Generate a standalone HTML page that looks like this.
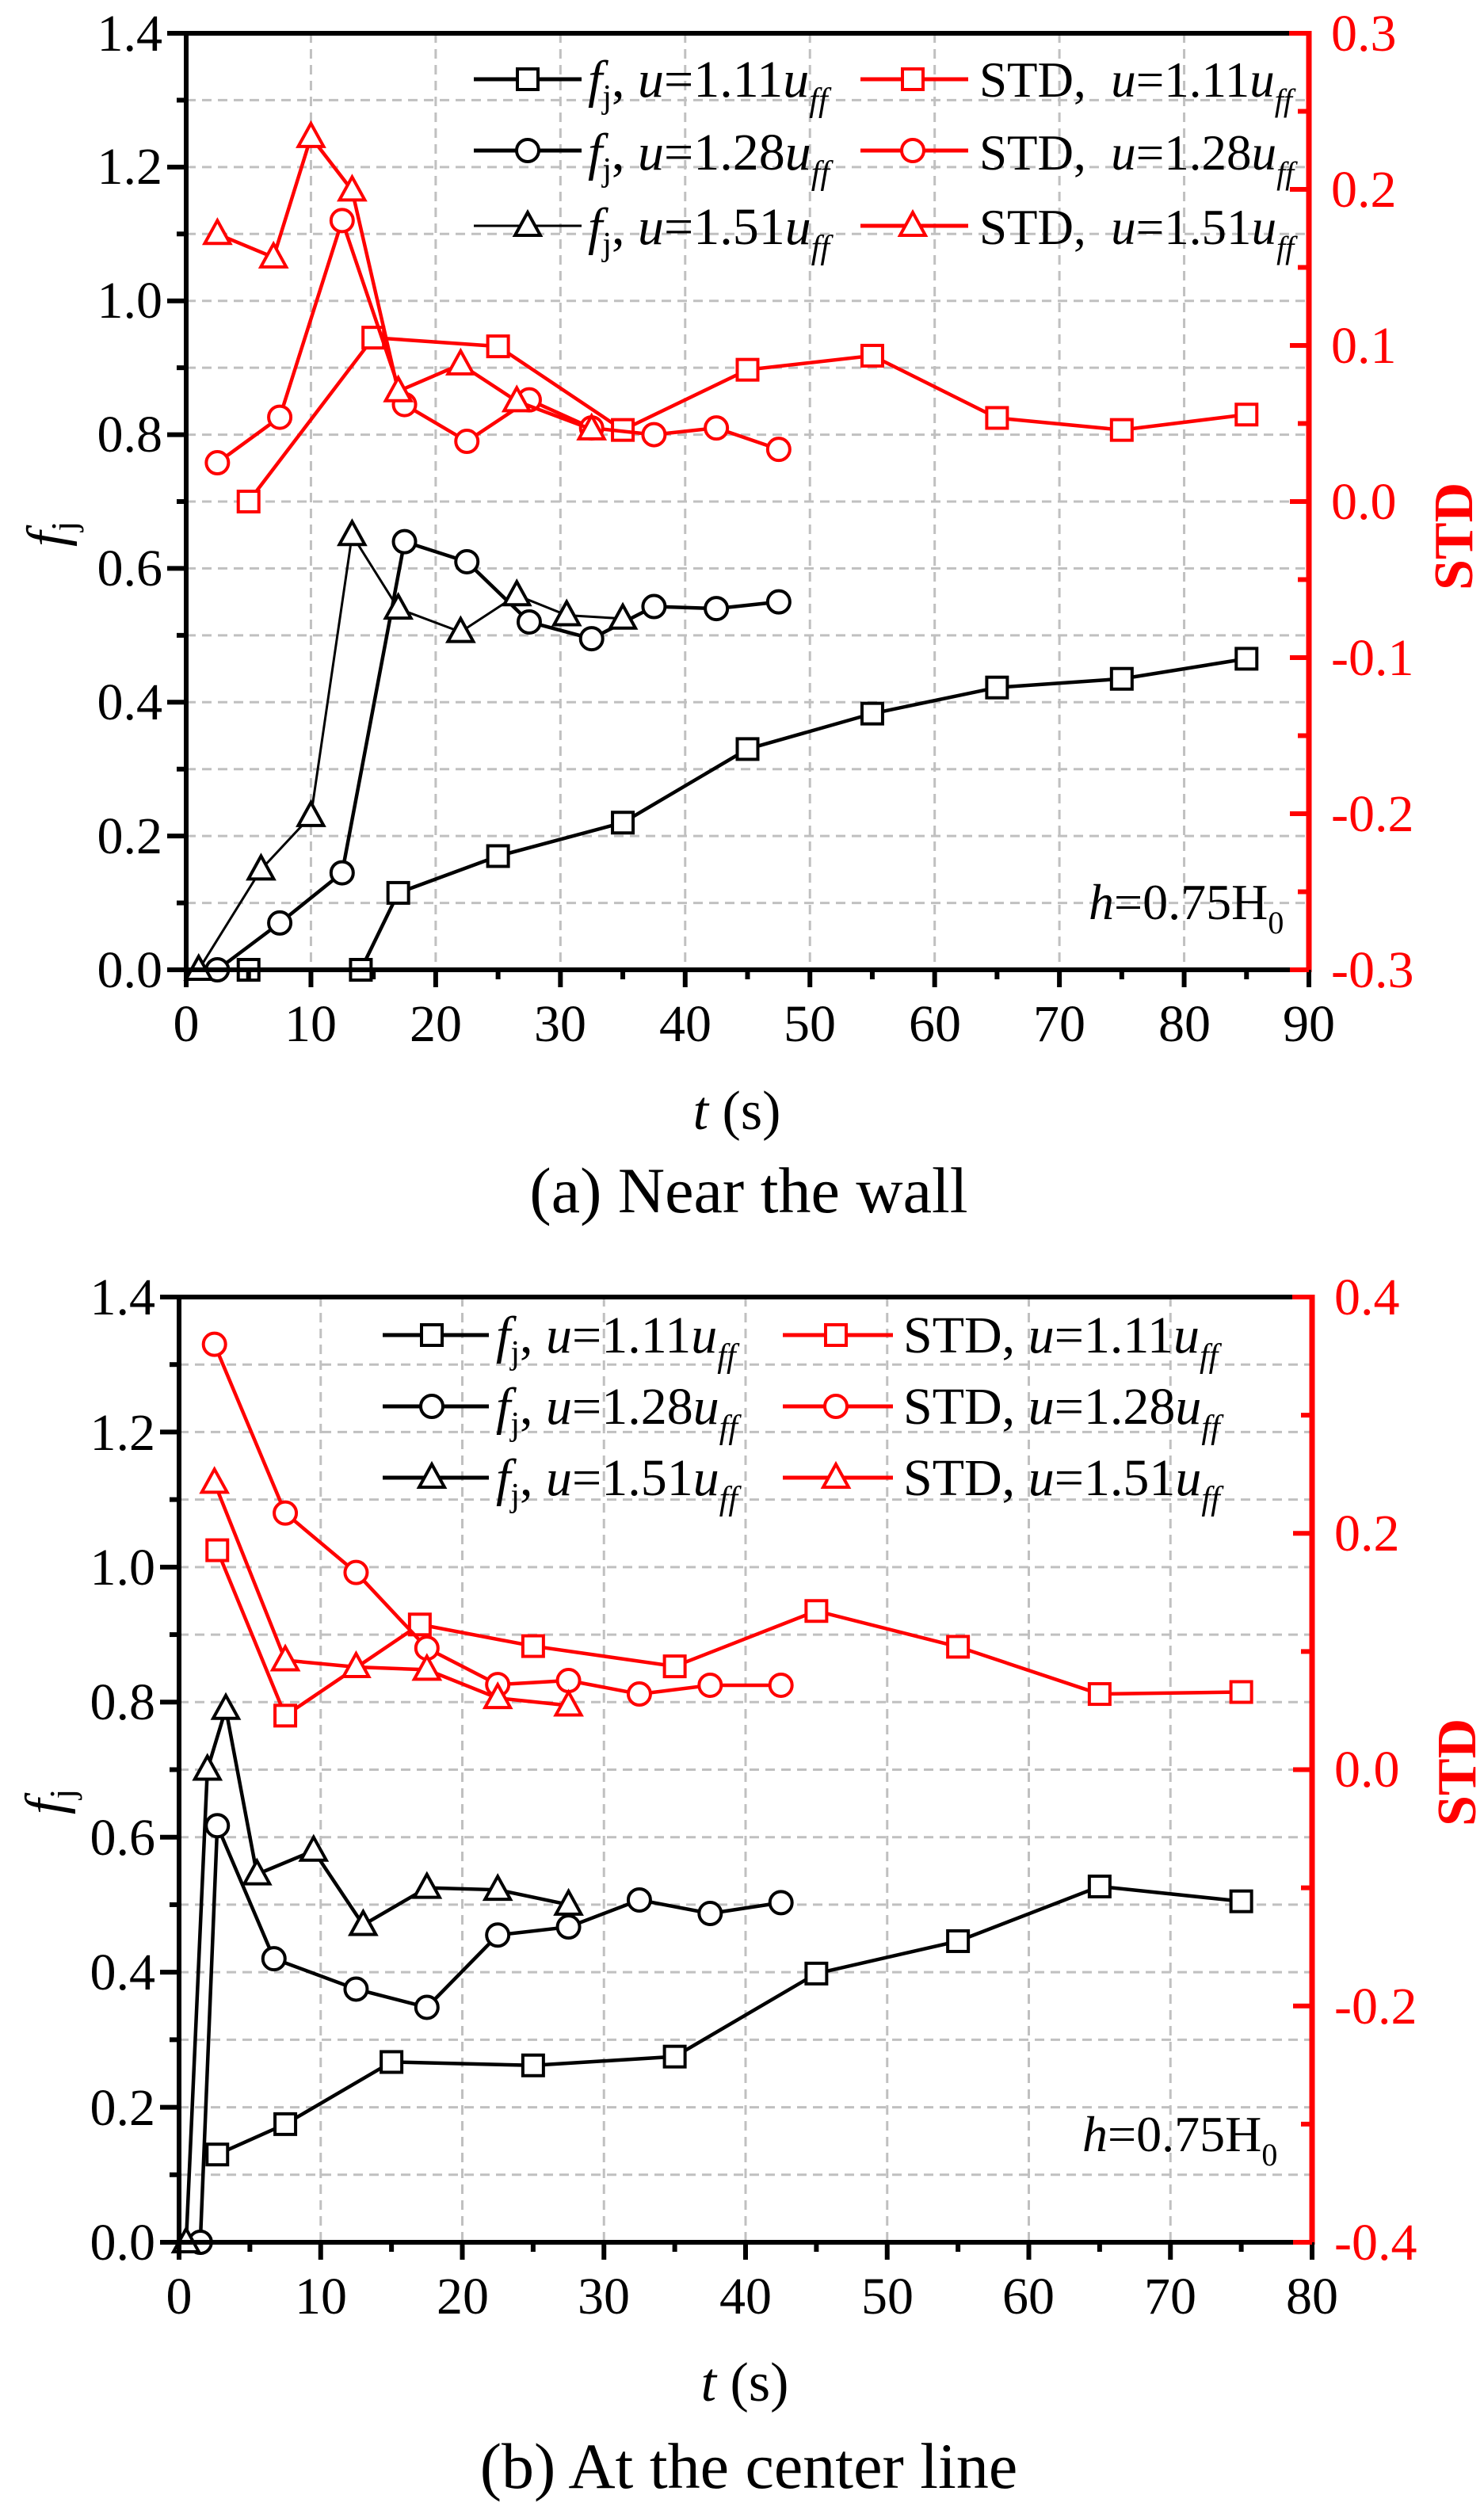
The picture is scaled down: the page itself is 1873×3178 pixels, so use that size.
<!DOCTYPE html>
<html><head><meta charset="utf-8"><style>
html,body{margin:0;padding:0;background:#fff}
svg{display:block}
text{font-family:"Liberation Serif",serif}
</style></head><body>
<svg id="s" width="1873" height="3178" viewBox="0 0 1873 3178" xmlns="http://www.w3.org/2000/svg">
<g id="g"></g>
<g font-size="66" fill="#000">
<g text-anchor="end">
<text x="205" y="1246">0.0</text><text x="205" y="1077">0.2</text><text x="205" y="908">0.4</text><text x="205" y="739">0.6</text><text x="205" y="570">0.8</text><text x="205" y="401">1.0</text><text x="205" y="232">1.2</text><text x="205" y="64">1.4</text>
</g>
<g text-anchor="middle">
<text x="235" y="1314">0</text><text x="392" y="1314">10</text><text x="550" y="1314">20</text><text x="707" y="1314">30</text><text x="865" y="1314">40</text><text x="1022" y="1314">50</text><text x="1180" y="1314">60</text><text x="1337" y="1314">70</text><text x="1495" y="1314">80</text><text x="1652" y="1314">90</text>
</g>
<g fill="#f00">
<text x="1680" y="1246">-0.3</text><text x="1680" y="1049">-0.2</text><text x="1680" y="852">-0.1</text><text x="1680" y="655">0.0</text><text x="1680" y="458">0.1</text><text x="1680" y="261">0.2</text><text x="1680" y="64">0.3</text>
</g>
<g text-anchor="end">
<text x="196" y="2852">0.0</text><text x="196" y="2682">0.2</text><text x="196" y="2511">0.4</text><text x="196" y="2341">0.6</text><text x="196" y="2170">0.8</text><text x="196" y="2000">1.0</text><text x="196" y="1830">1.2</text><text x="196" y="1659">1.4</text>
</g>
<g text-anchor="middle">
<text x="226" y="2920">0</text><text x="405" y="2920">10</text><text x="584" y="2920">20</text><text x="762" y="2920">30</text><text x="941" y="2920">40</text><text x="1120" y="2920">50</text><text x="1298" y="2920">60</text><text x="1477" y="2920">70</text><text x="1656" y="2920">80</text>
</g>
<g fill="#f00">
<text x="1684" y="2852">-0.4</text><text x="1684" y="2554">-0.2</text><text x="1684" y="2255">0.0</text><text x="1684" y="1957">0.2</text><text x="1684" y="1659">0.4</text>
</g>
</g>
<g font-size="70">
<text x="0" y="0" transform="translate(82,690) rotate(-90)" font-style="italic">f<tspan font-size="46" font-style="normal" dy="14">j</tspan></text>
<text x="0" y="0" transform="translate(1858,745) rotate(-90)" fill="#f00" font-weight="bold">STD</text>
<text x="930" y="1425" text-anchor="middle"><tspan font-style="italic">t</tspan> (s)</text>
<text x="0" y="0" transform="translate(80,2290) rotate(-90)" font-style="italic">f<tspan font-size="46" font-style="normal" dy="14">j</tspan></text>
<text x="0" y="0" transform="translate(1862,2305) rotate(-90)" fill="#f00" font-weight="bold">STD</text>
<text x="940" y="3030" text-anchor="middle"><tspan font-style="italic">t</tspan> (s)</text>
<text x="945" y="1530" text-anchor="middle" font-size="82">(a) Near the wall</text>
<text x="945" y="3140" text-anchor="middle" font-size="82">(b) At the center line</text>
<text x="1374" y="1160" font-size="64"><tspan font-style="italic">h</tspan>=0.75H<tspan font-size="40" dy="18">0</tspan></text>
<text x="1366" y="2715" font-size="64"><tspan font-style="italic">h</tspan>=0.75H<tspan font-size="40" dy="18">0</tspan></text>
</g>
<g font-size="66">
<text x="742" y="122"><tspan font-style="italic">f</tspan><tspan font-size="42" dy="14">j</tspan><tspan dy="-14">, </tspan><tspan font-style="italic">u</tspan>=1.11<tspan font-style="italic">u</tspan><tspan font-style="italic" font-size="42" dy="18">ff</tspan></text>
<text x="742" y="214"><tspan font-style="italic">f</tspan><tspan font-size="42" dy="14">j</tspan><tspan dy="-14">, </tspan><tspan font-style="italic">u</tspan>=1.28<tspan font-style="italic">u</tspan><tspan font-style="italic" font-size="42" dy="18">ff</tspan></text>
<text x="742" y="308"><tspan font-style="italic">f</tspan><tspan font-size="42" dy="14">j</tspan><tspan dy="-14">, </tspan><tspan font-style="italic">u</tspan>=1.51<tspan font-style="italic">u</tspan><tspan font-style="italic" font-size="42" dy="18">ff</tspan></text>
<g font-size="63">
<text x="1236" y="122">STD,&#160; <tspan font-style="italic">u</tspan>=1.11<tspan font-style="italic">u</tspan><tspan font-style="italic" font-size="40" dy="18">ff</tspan></text>
<text x="1236" y="214">STD,&#160; <tspan font-style="italic">u</tspan>=1.28<tspan font-style="italic">u</tspan><tspan font-style="italic" font-size="40" dy="18">ff</tspan></text>
<text x="1236" y="308">STD,&#160; <tspan font-style="italic">u</tspan>=1.51<tspan font-style="italic">u</tspan><tspan font-style="italic" font-size="40" dy="18">ff</tspan></text>
</g>
<text x="626" y="1707"><tspan font-style="italic">f</tspan><tspan font-size="42" dy="14">j</tspan><tspan dy="-14">, </tspan><tspan font-style="italic">u</tspan>=1.11<tspan font-style="italic">u</tspan><tspan font-style="italic" font-size="42" dy="18">ff</tspan></text>
<text x="626" y="1797"><tspan font-style="italic">f</tspan><tspan font-size="42" dy="14">j</tspan><tspan dy="-14">, </tspan><tspan font-style="italic">u</tspan>=1.28<tspan font-style="italic">u</tspan><tspan font-style="italic" font-size="42" dy="18">ff</tspan></text>
<text x="626" y="1887"><tspan font-style="italic">f</tspan><tspan font-size="42" dy="14">j</tspan><tspan dy="-14">, </tspan><tspan font-style="italic">u</tspan>=1.51<tspan font-style="italic">u</tspan><tspan font-style="italic" font-size="42" dy="18">ff</tspan></text>
<text x="1140" y="1707">STD, <tspan font-style="italic">u</tspan>=1.11<tspan font-style="italic">u</tspan><tspan font-style="italic" font-size="42" dy="18">ff</tspan></text>
<text x="1140" y="1797">STD, <tspan font-style="italic">u</tspan>=1.28<tspan font-style="italic">u</tspan><tspan font-style="italic" font-size="42" dy="18">ff</tspan></text>
<text x="1140" y="1887">STD, <tspan font-style="italic">u</tspan>=1.51<tspan font-style="italic">u</tspan><tspan font-style="italic" font-size="42" dy="18">ff</tspan></text>
</g>
</svg>
<script>
const NS="http://www.w3.org/2000/svg",G=document.getElementById('g');
function el(t,a){const e=document.createElementNS(NS,t);for(const k in a)e.setAttribute(k,a[k]);G.appendChild(e);return e;}
function marker(type,x,y,c){
 const st={fill:'#fff',stroke:c,'stroke-width':4};
 if(type=='s')el('rect',Object.assign({x:x-13,y:y-13,width:26,height:26},st));
 else if(type=='c')el('circle',Object.assign({cx:x,cy:y,r:14},st));
 else el('polygon',Object.assign({points:`${x},${y-17} ${x-16},${y+12} ${x+16},${y+12}`},st));
}
function plot(P){
 const X=v=>P.x0+(v/P.xmax)*(P.x1-P.x0), Y=v=>P.y1-(v/1.4)*(P.y1-P.y0);
 for(let v=10;v<P.xmax;v+=10)el('line',{x1:X(v),x2:X(v),y1:P.y0,y2:P.y1,stroke:'#c0c0c0','stroke-width':3,'stroke-dasharray':'12 8'});
 for(let v=1;v<14;v++)el('line',{x1:P.x0,x2:P.x1,y1:Y(v/10),y2:Y(v/10),stroke:'#c0c0c0','stroke-width':3,'stroke-dasharray':'12 8'});
 for(const s of P.series){
  el('polyline',{points:s.d.map(p=>X(p[0])+','+Y(p[1])).join(' '),fill:'none',stroke:s.c,'stroke-width':s.w||4.5});
  for(const p of s.d)marker(s.m,X(p[0]),Y(p[1]),s.c);
 }
 el('line',{x1:P.x0,x2:P.x1,y1:P.y0,y2:P.y0,stroke:'#000','stroke-width':6});
 el('line',{x1:P.x0,x2:P.x1,y1:P.y1,y2:P.y1,stroke:'#000','stroke-width':6});
 el('line',{x1:P.x0,x2:P.x0,y1:P.y0,y2:P.y1,stroke:'#000','stroke-width':6});
 el('line',{x1:P.x1,x2:P.x1,y1:P.y0-3,y2:P.y1+3,stroke:'#f00','stroke-width':7});
 el('line',{x1:P.x1-25,x2:P.x1,y1:P.y0,y2:P.y0,stroke:'#f00','stroke-width':6});
 for(let v=0;v<=P.xmax;v+=5){const maj=v%10==0;el('line',{x1:X(v),x2:X(v),y1:P.y1,y2:P.y1+(maj?22:12),stroke:'#000','stroke-width':6});}
 for(let v=0;v<=14;v++){const maj=v%2==0;el('line',{x1:P.x0-(maj?24:12),x2:P.x0,y1:Y(v/10),y2:Y(v/10),stroke:'#000','stroke-width':6});}
 const n=P.rn;for(let i=0;i<=n;i++){const y=P.y1-i*(P.y1-P.y0)/n;el('line',{x1:P.x1-(i%2==0?24:14),x2:P.x1,y1:y,y2:y,stroke:'#f00','stroke-width':6});}
 P.leg.forEach((l,i)=>{el('line',{x1:l[0],x2:l[1],y1:l[3],y2:l[3],stroke:l[4],'stroke-width':l[6]||5});marker(l[5],l[2],l[3],l[4]);});
}
const K='#000',R='#f00';
plot({x0:235,x1:1652,y0:42,y1:1224,xmax:90,rn:12,
series:[
{m:'s',c:K,d:[[5,0],[14,0],[17,0.115],[25,0.17],[35,0.22],[45,0.33],[55,0.383],[65,0.422],[75,0.435],[85,0.465]]},
{m:'c',c:K,d:[[2.5,0],[7.5,0.07],[12.5,0.145],[17.5,0.64],[22.5,0.61],[27.5,0.52],[32.5,0.495],[37.5,0.543],[42.5,0.54],[47.5,0.55]]},
{m:'t',c:K,w:3,d:[[1,0],[6,0.15],[10,0.23],[13.3,0.65],[17,0.54],[22,0.505],[26.5,0.56],[30.5,0.53],[35,0.525]]},
{m:'s',c:R,d:[[5,0.70],[15,0.945],[25,0.932],[35,0.807],[45,0.897],[55,0.918],[65,0.825],[75,0.807],[85,0.83]]},
{m:'c',c:R,d:[[2.5,0.758],[7.5,0.826],[12.5,1.12],[17.5,0.845],[22.5,0.79],[27.5,0.852],[32.5,0.81],[37.5,0.80],[42.5,0.81],[47.5,0.778]]},
{m:'t',c:R,d:[[2.5,1.10],[7,1.065],[10,1.245],[13.3,1.165],[17,0.865],[22,0.905],[26.5,0.85],[32.5,0.808]]}],
leg:[[598,734,666,100,K,'s'],[598,734,666,190,K,'c'],[598,734,666,285,K,'t',3],[1086,1222,1152,100,R,'s'],[1086,1222,1152,190,R,'c'],[1086,1222,1152,285,R,'t']]});
plot({x0:226,x1:1656,y0:1637,y1:2830,xmax:80,rn:8,
series:[
{m:'s',c:K,d:[[2.7,0.13],[7.5,0.175],[15,0.267],[25,0.262],[35,0.275],[45,0.398],[55,0.446],[65,0.527],[75,0.505]]},
{m:'c',c:K,d:[[1.5,0],[2.7,0.617],[6.7,0.42],[12.5,0.375],[17.5,0.348],[22.5,0.455],[27.5,0.467],[32.5,0.507],[37.5,0.487],[42.5,0.503]]},
{m:'t',c:K,d:[[0.5,0],[2,0.70],[3.3,0.79],[5.5,0.545],[9.5,0.58],[13,0.47],[17.5,0.525],[22.5,0.522],[27.5,0.50]]},
{m:'s',c:R,d:[[2.7,1.025],[7.5,0.78],[17,0.915],[25,0.883],[35,0.853],[45,0.935],[55,0.882],[65,0.812],[75,0.815]]},
{m:'c',c:R,d:[[2.5,1.33],[7.5,1.08],[12.5,0.992],[17.5,0.88],[22.5,0.826],[27.5,0.832],[32.5,0.812],[37.5,0.825],[42.5,0.825]]},
{m:'t',c:R,d:[[2.5,1.125],[7.5,0.862],[12.5,0.852],[17.5,0.848],[22.5,0.806],[27.5,0.795]]}],
leg:[[483,617,545,1685,K,'s'],[483,617,545,1775,K,'c'],[483,617,545,1865,K,'t'],[988,1127,1055,1685,R,'s'],[988,1127,1055,1775,R,'c'],[988,1127,1055,1865,R,'t']]});
</script>
</body></html>
